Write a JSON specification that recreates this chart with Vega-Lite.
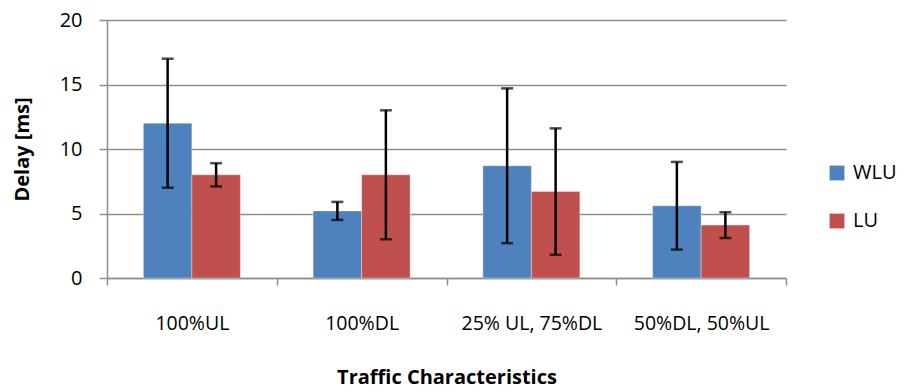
{
  "$schema": "https://vega.github.io/schema/vega-lite/v6.json",
  "autosize": "none",
  "width": 679,
  "height": 258,
  "padding": {"left": 107, "top": 20, "right": 119, "bottom": 114},
  "background": "white",
  "config": {
    "font": "Open Sans",
    "view": {"stroke": null}
  },
  "data": {
    "values": [
      {"cat": "100%UL", "series": "WLU", "value": 12.0, "low": 7.0, "high": 17.0},
      {"cat": "100%UL", "series": "LU", "value": 8.0, "low": 7.1, "high": 8.9},
      {"cat": "100%DL", "series": "WLU", "value": 5.2, "low": 4.5, "high": 5.9},
      {"cat": "100%DL", "series": "LU", "value": 8.0, "low": 3.0, "high": 13.0},
      {"cat": "25% UL, 75%DL", "series": "WLU", "value": 8.7, "low": 2.7, "high": 14.7},
      {"cat": "25% UL, 75%DL", "series": "LU", "value": 6.7, "low": 1.8, "high": 11.6},
      {"cat": "50%DL, 50%UL", "series": "WLU", "value": 5.6, "low": 2.2, "high": 9.0},
      {"cat": "50%DL, 50%UL", "series": "LU", "value": 4.1, "low": 3.1, "high": 5.1}
    ]
  },
  "encoding": {
    "x": {
      "field": "cat", "type": "nominal", "sort": null,
      "scale": {"paddingInner": 0, "paddingOuter": 0},
      "axis": {
        "title": "Traffic Characteristics",
        "titleFontSize": 20, "titleFontWeight": "bold", "titleColor": "#000000",
        "titlePadding": 35,
        "labelAngle": 0, "labelFontSize": 19.5, "labelColor": "#000000",
        "labelPadding": 29, "labelOverlap": false, "labelLimit": 0,
        "domainColor": "#8E8E8E", "domainWidth": 1.5,
        "tickColor": "#8E8E8E", "tickWidth": 1.5, "tickSize": 7, "tickBand": "extent"
      }
    },
    "xOffset": {
      "field": "series", "type": "nominal", "sort": ["WLU", "LU"],
      "scale": {"paddingInner": 0, "paddingOuter": 0.75}
    }
  },
  "layer": [
    {
      "mark": {"type": "bar", "stroke": "#ffffff", "strokeOpacity": 0.35, "strokeWidth": 1},
      "encoding": {
        "y": {
          "field": "value", "type": "quantitative",
          "scale": {"domain": [0, 20]},
          "axis": {
            "title": "Delay [ms]", "titleFontSize": 20, "titleFontWeight": "bold", "titleColor": "#000000",
            "titlePadding": 27,
            "values": [0, 5, 10, 15, 20],
            "labelFontSize": 20, "labelColor": "#000000", "labelPadding": 17,
            "domainColor": "#8E8E8E", "domainWidth": 1.5,
            "tickColor": "#8E8E8E", "tickWidth": 1.5, "tickSize": 8,
            "grid": true, "gridColor": "#8E8E8E", "gridWidth": 1.5
          }
        },
        "color": {
          "field": "series", "type": "nominal",
          "scale": {"domain": ["WLU", "LU"], "range": ["#4F81BD", "#C0504D"]},
          "legend": {
            "title": null, "orient": "none", "legendX": 720, "legendY": 143,
            "symbolType": "square", "symbolSize": 220, "symbolStrokeWidth": 0,
            "labelFontSize": 20, "labelColor": "#000000", "labelOffset": 6,
            "rowPadding": 28
          }
        }
      }
    },
    {
      "mark": {"type": "rule", "color": "#000000", "strokeWidth": 2.5},
      "encoding": {
        "y": {"field": "low", "type": "quantitative"},
        "y2": {"field": "high"}
      }
    },
    {
      "mark": {"type": "tick", "color": "#000000", "thickness": 2.5, "size": 12},
      "encoding": {
        "y": {"field": "low", "type": "quantitative"}
      }
    },
    {
      "mark": {"type": "tick", "color": "#000000", "thickness": 2.5, "size": 12},
      "encoding": {
        "y": {"field": "high", "type": "quantitative"}
      }
    }
  ]
}
